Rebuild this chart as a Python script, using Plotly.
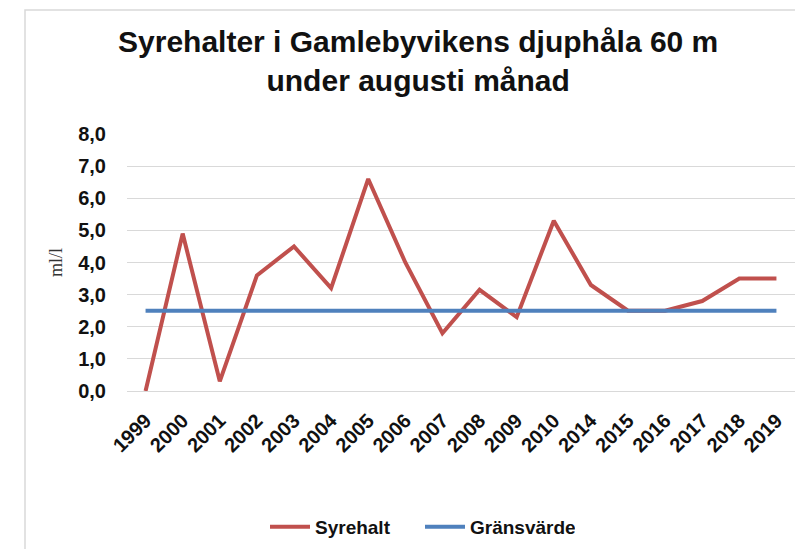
import plotly.graph_objects as go

years = ["1999", "2000", "2001", "2002", "2003", "2004", "2005", "2006", "2007",
         "2008", "2009", "2010", "2014", "2015", "2016", "2017", "2018", "2019"]
syrehalt = [0.0, 4.9, 0.3, 3.6, 4.5, 3.2, 6.6, 4.0, 1.8,
            3.15, 2.3, 5.3, 3.3, 2.5, 2.5, 2.8, 3.5, 3.5]
gransvarde = [2.5] * len(years)
y_ticks = [0, 1, 2, 3, 4, 5, 6, 7, 8]

W, H = 795, 549
ML, MR, MT, MB = 127, 0, 134, 158
pw = W - ML - MR
ph = H - MT - MB

fig = go.Figure()
fig.add_trace(go.Scatter(x=years, y=syrehalt, mode="lines", name="Syrehalt",
                         line=dict(color="#C0504D", width=4)))
fig.add_trace(go.Scatter(x=years, y=gransvarde, mode="lines", name="Gränsvärde",
                         line=dict(color="#4F81BD", width=4)))

fig.update_layout(
    width=W, height=H,
    margin=dict(l=ML, r=MR, t=MT, b=MB, autoexpand=False),
    paper_bgcolor="white", plot_bgcolor="white",
    separators=", ",
    font=dict(family="Liberation Sans, Arial, sans-serif", color="#222222"),
    title=dict(text="<b>Syrehalter i Gamlebyvikens djuphåla 60 m<br>under augusti månad</b>",
               x=0.526, xanchor="center", xref="container",
               y=1 - 52 / H, yanchor="middle", yref="container",
               font=dict(size=30, color="#111111")),
    showlegend=True,
    legend=dict(orientation="h", xref="container", yref="container",
                x=420 / W, xanchor="center", y=1 - 527 / H, yanchor="middle",
                font=dict(size=19, color="#111111", weight="bold"), itemwidth=40,
                entrywidth=100, entrywidthmode="pixels",
                tracegroupgap=0),
)
fig.update_xaxes(type="category", range=[-0.5, len(years) - 0.5], automargin=False,
                 showgrid=False, showline=False, zeroline=False,
                 tickangle=-45, ticks="outside", ticklen=9, tickcolor="rgba(0,0,0,0)",
                 tickfont=dict(size=20, color="#111111",
                               family="Liberation Sans, Arial, sans-serif", weight="bold"))
fig.update_yaxes(range=[0, 8], tickvals=y_ticks, tickformat=".1f", automargin=False,
                 showgrid=True, gridcolor="#D9D9D9", gridwidth=1,
                 zeroline=True, zerolinecolor="#D9D9D9", zerolinewidth=1,
                 showline=False, ticks="outside", ticklen=16, tickcolor="rgba(0,0,0,0)",
                 tickfont=dict(size=20, color="#111111",
                               family="Liberation Sans, Arial, sans-serif", weight="bold"),
                 title=dict(text="ml/l", standoff=10,
                            font=dict(size=18, color="#333333",
                                      family="Liberation Serif, Times New Roman, serif")))

# chart frame (left and top border of the Excel chart area)
fig.add_shape(type="rect", xref="paper", yref="paper",
              x0=(25 - ML) / pw, x1=1.1, y0=-1.0, y1=1 + (MT - 10) / ph,
              line=dict(color="#D9D9D9", width=1.5), layer="below")

fig.write_html("out.html", config={"displayModeBar": False},
               post_script="document.body.style.margin='0';")
